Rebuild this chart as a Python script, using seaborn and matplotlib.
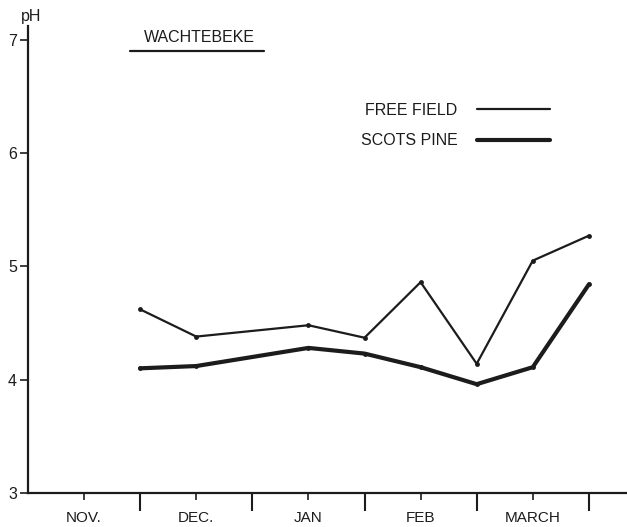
"""
pH in Wachtebeke: free field vs. Scots pine
"""
import matplotlib
matplotlib.use("Agg")
import matplotlib.pyplot as plt
from matplotlib.lines import Line2D
import seaborn as sns
import pandas as pd

# Dados (x em meses desde 1 de novembro)
months = [1.0, 1.5, 2.5, 3.0, 3.5, 4.0, 4.5, 5.0]
free_field = [4.62, 4.38, 4.48, 4.37, 4.86, 4.14, 5.05, 5.27]
scots_pine = [4.10, 4.12, 4.28, 4.23, 4.11, 3.96, 4.11, 4.84]
month_labels = ["NOV.", "DEC.", "JAN", "FEB", "MARCH"]
y_ticks = [3, 4, 5, 6, 7]

INK = "#1c1c1c"

sns.set_style("white")
plt.rcParams["font.family"] = ["Liberation Sans", "DejaVu Sans"]

df = pd.DataFrame({
    "month": months * 2,
    "pH": free_field + scots_pine,
    "site": ["FREE FIELD"] * len(months) + ["SCOTS PINE"] * len(months),
})

fig = plt.figure(figsize=(6.27, 5.27), dpi=100)
ax = fig.add_axes([28 / 627, 34 / 527, 599 / 627, 467 / 527])

widths = {"FREE FIELD": 1.6, "SCOTS PINE": 3.0}
for site, lw in widths.items():
    sns.lineplot(data=df[df["site"] == site], x="month", y="pH", ax=ax,
                 color=INK, linewidth=lw, marker="o", markersize=3.5,
                 markeredgewidth=0, legend=False)

ax.set_xlim(0, 5.34)
ax.set_ylim(3, 7.12)
ax.set_xlabel("")
ax.set_ylabel("")

# Eixos: só esquerda e baixo
sns.despine(ax=ax)
for side in ["left", "bottom"]:
    ax.spines[side].set_color(INK)
    ax.spines[side].set_linewidth(1.6)

ax.set_yticks(y_ticks)
ax.tick_params(axis="y", left=True, direction="out", length=6, width=1.2,
               color=INK, pad=2, labelsize=11.5, labelcolor=INK)

# Limites dos meses (ticks maiores) e centros com nomes (ticks menores)
ax.set_xticks([1, 2, 3, 4, 5])
ax.set_xticklabels([])
ax.set_xticks([0.5, 1.5, 2.5, 3.5, 4.5], minor=True)
ax.set_xticklabels(month_labels, minor=True)
ax.tick_params(axis="x", which="major", bottom=True, direction="out",
               length=13, width=1.5, color=INK)
ax.tick_params(axis="x", which="minor", bottom=True, direction="out",
               length=5, width=1.2, color=INK, pad=8, labelsize=11,
               labelcolor=INK)

ax.text(0.03, 7.2, "pH", ha="center", va="center", fontsize=11.5, color=INK)

# Título do local com sublinhado
ax.text(1.53, 7.02, "WACHTEBEKE", ha="center", va="center", fontsize=11.5,
        color=INK)
ax.plot([0.91, 2.10], [6.90, 6.90], color=INK, linewidth=1.6,
        clip_on=False)

handles = [Line2D([], [], color=INK, linewidth=lw) for lw in widths.values()]
ax.legend(handles, list(widths.keys()), loc="upper right",
          bbox_to_anchor=(522 / 599, (493 - 103) / 467), frameon=False,
          markerfirst=False, fontsize=11.5, handlelength=4.6,
          handletextpad=1.2, borderpad=0, borderaxespad=0,
          labelspacing=0.95, labelcolor=INK)

plt.savefig("out.png", dpi=100)
